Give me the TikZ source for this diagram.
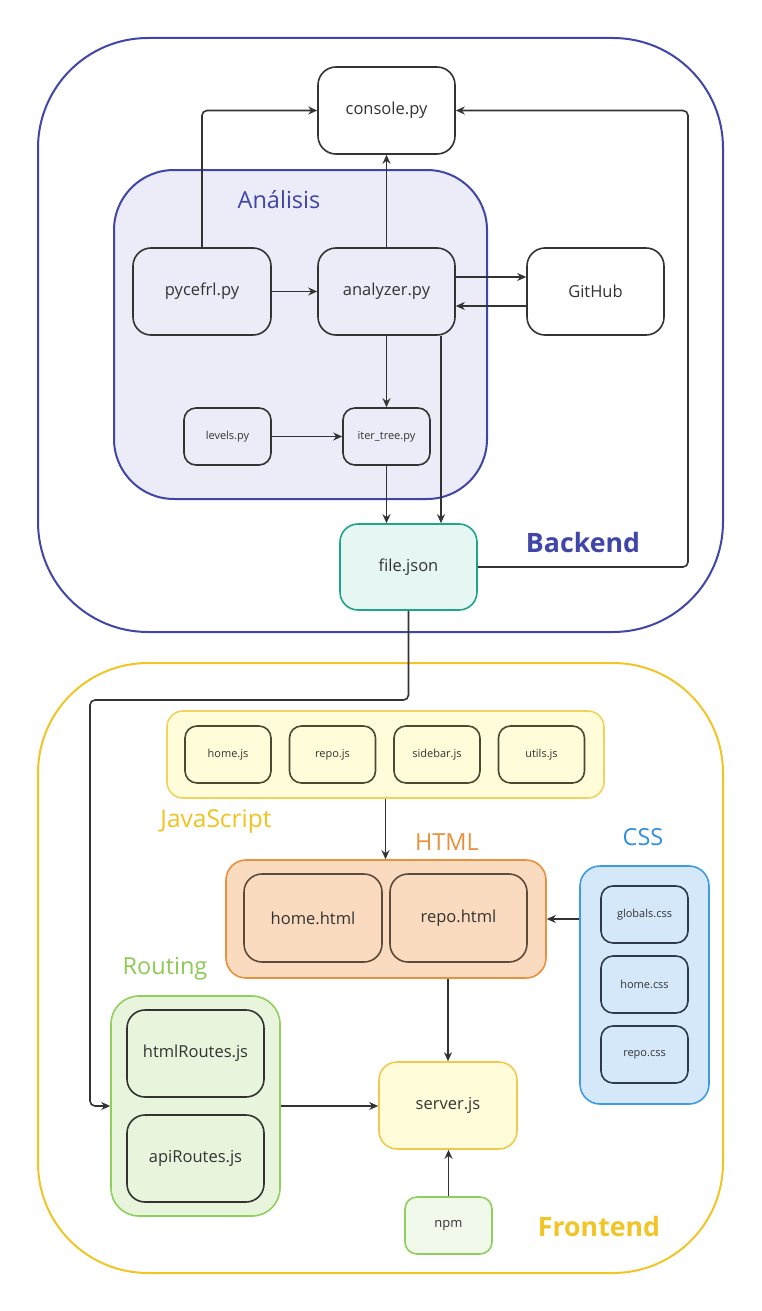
\documentclass[tikz,border=0pt]{standalone}
\usepackage{fontspec}
\setmainfont{Open Sans}
\usetikzlibrary{arrows.meta,calc}
\definecolor{bblue}{HTML}{4046A8}
\definecolor{afill}{HTML}{ECECF8}
\definecolor{teal}{HTML}{1FA58C}
\definecolor{tfill}{HTML}{E6F6F2}
\definecolor{fyel}{HTML}{F2C526}
\definecolor{jfill}{HTML}{FFFDD9}
\definecolor{jstroke}{HTML}{F2D25E}
\definecolor{jtext}{HTML}{F2C21E}
\definecolor{jin}{HTML}{4A4A30}
\definecolor{orng}{HTML}{E8903C}
\definecolor{ofill}{HTML}{FADBC0}
\definecolor{oin}{HTML}{5C4A3A}
\definecolor{cblue}{HTML}{3D9BE3}
\definecolor{cfill}{HTML}{D5E8FA}
\definecolor{ctext}{HTML}{2F8FE0}
\definecolor{cin}{HTML}{2E3A4A}
\definecolor{grn}{HTML}{8FCF5E}
\definecolor{gfill}{HTML}{E8F5DC}
\definecolor{gtext}{HTML}{8CCB55}
\definecolor{nfill}{HTML}{F1F9EA}
\definecolor{sstroke}{HTML}{F2C94C}
\definecolor{ink}{HTML}{333333}
\tikzset{
  box/.style={draw=ink, line width=1.6pt, rounded corners=18pt, align=center, text=ink, inner sep=0pt, font=\fontsize{16.5}{20}\selectfont},
  smallbox/.style={box, rounded corners=12pt, font=\fontsize{11}{13}\selectfont},
  frame/.style={line width=2pt, inner sep=0pt},
  arr/.style={draw=ink, line width=1.6pt, rounded corners=5pt, -{Stealth[length=9pt,width=8pt]}},
  lab/.style={inner sep=0pt, font=\fontsize{23.5}{28}\selectfont},
}
\begin{document}
\begin{tikzpicture}[x=1pt,y=-1pt]
\useasboundingbox (0,0) rectangle (762,1311);
% containers
\node[frame, draw=bblue, fill=white, rounded corners=110pt, minimum width=685pt, minimum height=594pt] (backend) at (380.5,335) {};
\node[frame, draw=fyel, fill=white, rounded corners=110pt, minimum width=685pt, minimum height=610pt] (frontend) at (380.5,968) {};
\node[frame, draw=bblue, fill=afill, rounded corners=60pt, minimum width=373pt, minimum height=329pt] (analisis) at (300.5,334.5) {};
\node[lab, text=bblue] (analisislab) at (279,200) {Análisis};
\node[inner sep=0pt, text=bblue, font=\fontsize{26.7}{32}\selectfont\bfseries] (backendlab) at (583,542) {Backend};
% backend nodes
\node[box, fill=white, minimum width=137pt, minimum height=87pt] (console) at (386.5,110.5) {console.py};
\node[box, fill=afill, minimum width=138pt, minimum height=87pt] (pycefrl) at (202,291.5) {pycefrl.py};
\node[box, fill=afill, minimum width=137pt, minimum height=87pt] (analyzer) at (386.5,291.5) {analyzer.py};
\node[box, fill=white, minimum width=137pt, minimum height=87pt] (github) at (595.5,291.5) {GitHub};
\node[smallbox, fill=afill, minimum width=87pt, minimum height=57pt] (levels) at (227.5,436.5) {levels.py};
\node[smallbox, fill=afill, minimum width=87pt, minimum height=57pt] (itertree) at (386.5,436.5) {iter\_tree.py};
\node[box, draw=teal, fill=tfill, minimum width=137pt, minimum height=86pt] (filejson) at (408.5,567) {file.json};
% frontend
\node[frame, line width=1.6pt, draw=jstroke, fill=jfill, rounded corners=16pt, minimum width=437pt, minimum height=87pt] (js) at (385.5,754.5) {};
\node[smallbox, draw=jin, fill=jfill, minimum width=86pt, minimum height=57pt] (homejs) at (228,754.5) {home.js};
\node[smallbox, draw=jin, fill=jfill, minimum width=86pt, minimum height=57pt] (repojs) at (332.5,754.5) {repo.js};
\node[smallbox, draw=jin, fill=jfill, minimum width=86pt, minimum height=57pt] (sidebarjs) at (437,754.5) {sidebar.js};
\node[smallbox, draw=jin, fill=jfill, minimum width=86pt, minimum height=57pt] (utilsjs) at (541.5,754.5) {utils.js};
\node[lab, text=jtext, font=\fontsize{24.5}{29}\selectfont] (jslab) at (216,821) {JavaScript};
\node[frame, line width=1.6pt, draw=orng, fill=ofill, rounded corners=20pt, minimum width=320pt, minimum height=118pt] (html) at (386,919) {};
\node[box, draw=oin, fill=ofill, minimum width=138pt, minimum height=88pt] (homehtml) at (313,918) {home.html};
\node[box, draw=oin, fill=ofill, minimum width=137pt, minimum height=88pt] (repohtml) at (458.5,918) {repo.html};
\node[lab, text=orng] (htmllab) at (447,842) {HTML};
\node[frame, line width=1.6pt, draw=cblue, fill=cfill, rounded corners=20pt, minimum width=129pt, minimum height=238pt] (css) at (644.5,985) {};
\node[smallbox, draw=cin, fill=cfill, minimum width=87pt, minimum height=57pt] (globals) at (644.5,914.5) {globals.css};
\node[smallbox, draw=cin, fill=cfill, minimum width=87pt, minimum height=57pt] (homecss) at (644.5,984.5) {home.css};
\node[smallbox, draw=cin, fill=cfill, minimum width=87pt, minimum height=57pt] (repocss) at (644.5,1054.5) {repo.css};
\node[lab, text=ctext] (csslab) at (643,837) {CSS};
\node[frame, line width=1.6pt, draw=grn, fill=gfill, rounded corners=28pt, minimum width=169pt, minimum height=220pt] (routing) at (195.5,1106) {};
\node[box, fill=gfill, minimum width=137pt, minimum height=87pt] (htmlroutes) at (195.5,1053.5) {htmlRoutes.js};
\node[box, fill=gfill, minimum width=137pt, minimum height=87pt] (apiroutes) at (195.5,1158.5) {apiRoutes.js};
\node[lab, text=gtext] (routinglab) at (165,969) {Routing};
\node[box, draw=sstroke, fill=jfill, minimum width=138pt, minimum height=87pt] (server) at (448,1105.5) {server.js};
\node[smallbox, draw=grn, fill=nfill, font=\fontsize{13}{15}\selectfont, minimum width=87pt, minimum height=57pt] (npm) at (448.5,1225.5) {npm};
\node[inner sep=0pt, text=fyel, font=\fontsize{26.7}{32}\selectfont\bfseries] (frontendlab) at (599,1226) {Frontend};
% connectors
\coordinate (rt) at (688,110.5);
\coordinate (jl) at (90,700);
\draw[arr] (pycefrl.north) |- (console.west);
\draw[arr] (analyzer.north) -- (console.south);
\draw[arr] (pycefrl.east) -- (analyzer.west);
\draw[arr] ([yshift=14.5pt]analyzer.east) -- ([yshift=14.5pt]github.west);
\draw[arr] ([yshift=-14.5pt]github.west) -- ([yshift=-14.5pt]analyzer.east);
\draw[arr] (analyzer.south) -- (itertree.north);
\draw[arr] (levels.east) -- (itertree.west);
\draw[arr] (itertree.south) -- (itertree.south |- filejson.north);
\draw[arr] ([xshift=54.5pt]analyzer.south) -- ([xshift=54.5pt]analyzer.south |- filejson.north);
\draw[arr] (filejson.east) -| (rt) -- (console.east);
\draw[arr] (filejson.south) |- (jl) |- (routing.west);
\draw[arr] (js.south) -- (js.south |- html.north);
\draw[arr] (html.east -| css.west) -- (html.east);
\draw[arr] (server.north |- html.south) -- (server.north);
\draw[arr] (routing.east) -- (routing.east -| server.west);
\draw[arr] (npm.north) -- (npm.north |- server.south);
\end{tikzpicture}
\end{document}
